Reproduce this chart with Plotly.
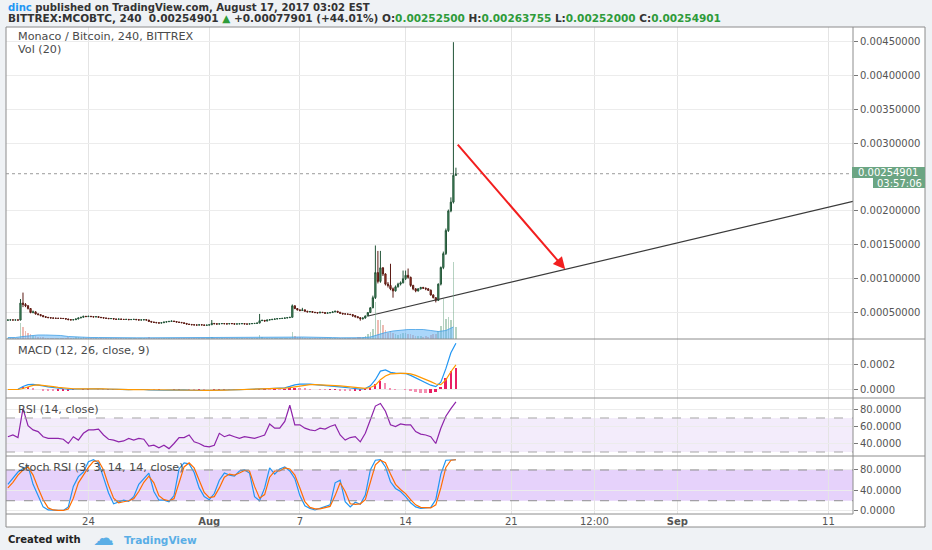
import pandas as pd
import plotly.graph_objects as go

# ---- price data: 4h candles from 2017-07-18 16:00, values in mBTC ----
candle_start = "2017-07-18 16:00"
first_open = 0.388
closes = [
    0.390, 0.392,
    0.390, 0.391, 0.390, 0.640, 0.620, 0.600,
    0.560, 0.500, 0.510, 0.480, 0.470, 0.455,
    0.440, 0.430, 0.425, 0.420, 0.418, 0.415,
    0.415, 0.414, 0.412, 0.405, 0.395, 0.392,
    0.395, 0.405, 0.420, 0.430, 0.445, 0.440,
    0.445, 0.440, 0.435, 0.440, 0.430, 0.425,
    0.420, 0.415, 0.410, 0.412, 0.405, 0.400,
    0.405, 0.400, 0.398, 0.400, 0.395, 0.398,
    0.400, 0.395, 0.390, 0.392, 0.395, 0.390,
    0.370, 0.360, 0.355, 0.350, 0.345, 0.350,
    0.360, 0.365, 0.370, 0.375, 0.368, 0.360,
    0.355, 0.350, 0.340, 0.330, 0.325, 0.320,
    0.318, 0.315, 0.320, 0.318, 0.312, 0.315,
    0.320, 0.340, 0.335, 0.330, 0.335, 0.338,
    0.335, 0.332, 0.338, 0.336, 0.330, 0.333,
    0.335, 0.337, 0.332, 0.330, 0.335, 0.338,
    0.340, 0.345, 0.380, 0.385, 0.375, 0.390,
    0.395, 0.400, 0.405, 0.410, 0.412, 0.415,
    0.420, 0.425, 0.430, 0.600, 0.560, 0.540,
    0.530, 0.540, 0.520, 0.510, 0.515, 0.505,
    0.500, 0.495, 0.505, 0.500, 0.490, 0.495,
    0.500, 0.510, 0.520, 0.505, 0.490, 0.480,
    0.480, 0.475, 0.470, 0.455, 0.440, 0.425,
    0.410, 0.420, 0.450, 0.500, 0.570, 0.720,
    1.090, 0.960, 1.160, 1.070, 0.920, 0.900,
    0.850, 0.820, 0.880, 0.920, 0.940, 1.000,
    1.050, 1.020, 0.900, 0.850, 0.820, 0.850,
    0.870, 0.860, 0.850, 0.830, 0.760, 0.720,
    0.680, 0.920, 1.165, 1.370, 1.710, 2.000,
    2.130, 2.525, 2.549,
]
highs = [
    0.395, 0.396,
    0.394, 0.395, 0.395, 0.700, 0.795, 0.640,
    0.610, 0.565, 0.530, 0.520, 0.490, 0.475,
    0.460, 0.445, 0.435, 0.428, 0.425, 0.422,
    0.420, 0.420, 0.418, 0.415, 0.408, 0.398,
    0.400, 0.410, 0.425, 0.435, 0.450, 0.450,
    0.452, 0.450, 0.445, 0.445, 0.442, 0.432,
    0.428, 0.422, 0.418, 0.416, 0.414, 0.408,
    0.408, 0.407, 0.402, 0.403, 0.402, 0.400,
    0.403, 0.402, 0.397, 0.395, 0.398, 0.397,
    0.392, 0.372, 0.362, 0.357, 0.352, 0.353,
    0.362, 0.368, 0.374, 0.380, 0.378, 0.370,
    0.362, 0.357, 0.352, 0.342, 0.332, 0.327,
    0.322, 0.320, 0.323, 0.322, 0.320, 0.318,
    0.323, 0.390, 0.345, 0.338, 0.338, 0.342,
    0.340, 0.337, 0.340, 0.340, 0.337, 0.336,
    0.338, 0.340, 0.339, 0.334, 0.337, 0.341,
    0.343, 0.350, 0.480, 0.395, 0.388, 0.393,
    0.398, 0.403, 0.408, 0.413, 0.416, 0.418,
    0.423, 0.428, 0.434, 0.620, 0.605, 0.565,
    0.545, 0.570, 0.545, 0.525, 0.520, 0.518,
    0.508, 0.502, 0.510, 0.508, 0.502, 0.500,
    0.503, 0.515, 0.525, 0.522, 0.508, 0.492,
    0.485, 0.480, 0.475, 0.472, 0.458, 0.442,
    0.428, 0.425, 0.455, 0.505, 0.580, 0.750,
    1.490, 1.410, 1.410, 1.170, 1.080, 0.950,
    1.220, 0.870, 0.900, 0.940, 0.960, 1.120,
    1.120, 1.150, 1.030, 0.910, 0.860, 0.860,
    0.880, 0.880, 0.870, 0.860, 0.840, 0.770,
    0.725, 0.930, 1.180, 1.400, 1.740, 2.020,
    2.200, 4.490, 2.638,
]
lows = [
    0.386, 0.388,
    0.386, 0.387, 0.386, 0.385, 0.580, 0.580,
    0.545, 0.490, 0.490, 0.470, 0.460, 0.445,
    0.432, 0.425, 0.418, 0.415, 0.412, 0.410,
    0.410, 0.408, 0.405, 0.400, 0.390, 0.386,
    0.388, 0.392, 0.402, 0.418, 0.428, 0.435,
    0.437, 0.435, 0.430, 0.432, 0.426, 0.420,
    0.415, 0.410, 0.405, 0.406, 0.400, 0.396,
    0.397, 0.396, 0.394, 0.395, 0.390, 0.392,
    0.395, 0.390, 0.385, 0.386, 0.389, 0.386,
    0.366, 0.355, 0.350, 0.345, 0.340, 0.342,
    0.347, 0.356, 0.362, 0.368, 0.364, 0.356,
    0.350, 0.346, 0.336, 0.326, 0.320, 0.315,
    0.312, 0.310, 0.312, 0.314, 0.308, 0.309,
    0.312, 0.318, 0.330, 0.326, 0.327, 0.332,
    0.330, 0.328, 0.330, 0.332, 0.326, 0.327,
    0.330, 0.332, 0.328, 0.326, 0.328, 0.333,
    0.336, 0.338, 0.342, 0.376, 0.370, 0.372,
    0.388, 0.393, 0.398, 0.404, 0.406, 0.410,
    0.414, 0.418, 0.422, 0.428, 0.550, 0.530,
    0.520, 0.525, 0.515, 0.505, 0.505, 0.500,
    0.492, 0.488, 0.492, 0.495, 0.485, 0.488,
    0.492, 0.498, 0.505, 0.500, 0.485, 0.474,
    0.472, 0.470, 0.465, 0.435, 0.425, 0.418,
    0.380, 0.395, 0.410, 0.445, 0.495, 0.565,
    0.700, 0.930, 0.940, 1.040, 0.900, 0.870,
    0.830, 0.720, 0.810, 0.870, 0.900, 0.930,
    0.980, 1.000, 0.880, 0.830, 0.800, 0.810,
    0.840, 0.850, 0.830, 0.820, 0.750, 0.710,
    0.650, 0.670, 0.900, 1.140, 1.350, 1.690,
    1.980, 2.110, 2.520,
]
volumes = [
    1, 1,
    1, 1, 1, 16, 12, 8,
    6, 5, 3, 3, 2, 2,
    2, 1, 1, 1, 1, 1,
    1, 1, 1, 1, 2, 1,
    1, 2, 2, 1, 2, 1,
    1, 1, 1, 1, 1, 1,
    1, 1, 1, 1, 1, 1,
    1, 1, 1, 1, 1, 1,
    1, 1, 1, 1, 1, 1,
    2, 1, 1, 1, 1, 1,
    1, 1, 1, 1, 1, 1,
    1, 1, 1, 1, 1, 1,
    1, 1, 1, 1, 1, 1,
    1, 2, 1, 1, 1, 1,
    1, 1, 1, 1, 1, 1,
    1, 1, 1, 1, 1, 1,
    1, 1, 4, 2, 1, 1,
    1, 1, 1, 1, 1, 1,
    1, 1, 1, 7, 3, 2,
    2, 2, 1, 1, 1, 1,
    1, 1, 1, 1, 1, 1,
    1, 1, 1, 1, 1, 1,
    1, 1, 1, 1, 1, 2,
    2, 2, 3, 5, 7, 10,
    37, 19, 19, 14, 9, 6,
    8, 6, 5, 4, 5, 6,
    6, 5, 5, 4, 3, 3,
    3, 2, 3, 2, 4, 5,
    5, 8, 13, 40, 20, 22,
    19, 77, 12,
]
# Vol (20) moving average, every 12h from the first candle
vol_ma = [
    1.5,
    1.5, 2.5, 3.5, 4.0, 4.0, 4.0, 3.5, 2.5, 2.0, 1.5,
    1.5, 1.5, 1.3, 1.3, 1.2, 1.2, 1.2, 1.2, 1.2, 1.2,
    1.2, 1.2, 1.2, 1.2, 1.2, 1.2, 1.3, 1.3, 1.3, 1.3,
    1.2, 1.2, 1.4, 1.6, 1.6, 1.5, 1.5, 1.9, 2.0, 2.0,
    1.8, 1.6, 1.4, 1.2, 1.1, 1.1, 1.3, 2.0, 4.5, 6.5,
    8.0, 9.0, 9.5, 9.5, 9.5, 8.5, 7.5, 8.5, 12.0,
]

# ---- indicators, every 8h from the first candle ----
macd = [
    0.0, 0.0, 0.000002, 0.000025, 0.000040, 0.000042, 0.000038, 0.000030, 0.000022, 0.000015,
    0.000010, 0.000006, 0.000002, 0.000003, 0.000005, 0.000007, 0.000008, 0.000007, 0.000006, 0.000004,
    0.000002, 0.0, -0.000001, -0.000002, -0.000001, 0.0, 0.000001, 0.0, -0.000004, -0.000006,
    -0.000007, -0.000006, -0.000005, -0.000003, -0.000002, -0.000003, -0.000005, -0.000007, -0.000008, -0.000009,
    -0.000008, -0.000006, -0.000004, -0.000003, -0.000002, -0.000002, -0.000001, 0.0, 0.0, 0.000001,
    0.000003, 0.000006, 0.000008, 0.000010, 0.000012, 0.000014, 0.000025, 0.000038, 0.000044, 0.000045,
    0.000043, 0.000040, 0.000037, 0.000034, 0.000032, 0.000029, 0.000024, 0.000018, 0.000012, 0.000007,
    0.000003, 0.000008, 0.000030, 0.000080, 0.000150, 0.000160, 0.000140, 0.000133, 0.000132, 0.000130,
    0.000115, 0.000095, 0.000070, 0.000050, 0.000035, 0.000023, 0.000060, 0.000170, 0.000300, 0.000377,
]
macd_signal = [
    0.0, 0.0, 0.0, 0.000008, 0.000022, 0.000034, 0.000038, 0.000035, 0.000030, 0.000024,
    0.000018, 0.000012, 0.000008, 0.000006, 0.000005, 0.000006, 0.000007, 0.000007, 0.000007, 0.000006,
    0.000004, 0.000002, 0.000001, 0.0, -0.000001, 0.0, 0.0, 0.0, -0.000002, -0.000004,
    -0.000005, -0.000006, -0.000005, -0.000004, -0.000003, -0.000003, -0.000004, -0.000005, -0.000006, -0.000007,
    -0.000008, -0.000007, -0.000006, -0.000005, -0.000004, -0.000003, -0.000002, -0.000001, -0.000001, 0.0,
    0.000001, 0.000003, 0.000005, 0.000007, 0.000009, 0.000011, 0.000015, 0.000022, 0.000030, 0.000036,
    0.000039, 0.000040, 0.000039, 0.000037, 0.000035, 0.000032, 0.000029, 0.000025, 0.000020, 0.000015,
    0.000010, 0.000009, 0.000016, 0.000035, 0.000080, 0.000110, 0.000127, 0.000131, 0.000132, 0.000131,
    0.000127, 0.000115, 0.000100, 0.000082, 0.000064, 0.000045, 0.000040, 0.000078, 0.000145, 0.000200,
]
rsi = [
    48, 50, 47, 81, 61, 56, 54, 48, 46, 46,
    46, 45, 40, 48, 44, 52, 56, 56, 57, 50,
    45, 44, 42, 43, 46, 44, 46, 45, 37, 38,
    35, 38, 34, 40, 47, 47, 50, 42, 40, 37,
    36, 38, 52, 48, 50, 48, 46, 48, 47, 46,
    48, 50, 63, 58, 58, 66, 85, 62, 62, 58,
    56, 55, 58, 57, 60, 62, 50, 44, 47, 48,
    42, 52, 68, 84, 87, 78, 62, 60, 63, 62,
    62, 54, 51, 50, 48, 40, 58, 72, 81, 89,
]
stoch_k = [
    52, 63, 76, 83, 88, 52, 31, 8, 2, 1,
    1, 1, 8, 48, 67, 76, 96, 100, 94, 65,
    35, 14, 18, 21, 19, 28, 52, 62, 74, 38,
    21, 21, 18, 30, 82, 94, 92, 75, 45, 28,
    22, 34, 60, 74, 70, 68, 78, 80, 74, 28,
    20, 45, 84, 72, 82, 86, 78, 63, 30, 10,
    5, 2, 5, 8, 12, 55, 60, 18, 8, 17,
    13, 31, 80, 99, 100, 86, 57, 44, 38, 28,
    16, 8, 5, 6, 7, 22, 72, 99, 100, 100,
]
stoch_d = [
    45, 56, 70, 80, 86, 70, 45, 22, 6, 2,
    1, 1, 4, 25, 55, 70, 85, 97, 98, 80,
    50, 25, 16, 18, 20, 24, 38, 56, 68, 55,
    30, 22, 20, 24, 55, 86, 94, 84, 60, 36,
    26, 28, 45, 66, 72, 70, 74, 79, 78, 48,
    25, 32, 66, 78, 78, 84, 82, 70, 45, 18,
    7, 4, 4, 6, 9, 30, 55, 38, 14, 13,
    14, 22, 55, 90, 99, 94, 72, 52, 42, 34,
    22, 12, 7, 6, 6, 12, 45, 85, 99, 100,
]

# ---- drawings on the chart ----
trend_t = ["2017-08-11 12:30", "2017-09-12 15:00"]
trend_p = [0.00045, 0.00214]
arrow_t = ["2017-08-17 08:50", "2017-08-24 13:40"]
arrow_p = [0.00300, 0.00114]
last_price = 0.00254901

# x axis labels
tick_vals = ["2017-07-24", "2017-08-01", "2017-08-07", "2017-08-14",
             "2017-08-21", "2017-08-26 12:00", "2017-09-01", "2017-09-11"]
tick_text = ["24", "<b>Aug</b>", "7", "14", "21", "12:00", "<b>Sep</b>", "11"]

# ---------------------------------------------------------------
W, H = 932, 550
L, R, T, B = 6, 79, 27, 36
PW, PH = W - L - R, H - T - B


def px(x):
    return (x - L) / PW


def py(y):
    return (H - B - y) / PH


times = pd.date_range(candle_start, periods=len(closes), freq="4h")
ind_times = pd.date_range(candle_start, periods=len(rsi), freq="8h")
ma_times = times[::3][:len(vol_ma)]

c_btc = [v / 1000 for v in closes]
h_btc = [v / 1000 for v in highs]
l_btc = [v / 1000 for v in lows]
o_btc = [first_open / 1000] + c_btc[:-1]

fig = go.Figure()

# volume
vol_colors = ["rgba(107,165,131,0.5)" if c >= o else "rgba(215,84,66,0.4)"
              for o, c in zip(o_btc, c_btc)]
fig.add_trace(go.Bar(x=times, y=volumes, marker=dict(color=vol_colors, line=dict(width=0)),
                     width=4 * 3600 * 1000 * 0.65, xaxis="x", yaxis="y2"))
fig.add_trace(go.Scatter(x=ma_times, y=vol_ma, mode="lines", fill="tozeroy",
                         line=dict(color="rgba(66,160,230,0.8)", width=1),
                         fillcolor="rgba(100,181,246,0.55)", xaxis="x", yaxis="y2"))

# candles
fig.add_trace(go.Candlestick(
    x=times, open=o_btc, high=h_btc, low=l_btc, close=c_btc,
    increasing=dict(line=dict(color="#225437", width=1), fillcolor="#4f9a6c"),
    decreasing=dict(line=dict(color="#5b1a13", width=1), fillcolor="#c0402f"),
    whiskerwidth=0, xaxis="x", yaxis="y"))

# trend line
fig.add_trace(go.Scatter(x=trend_t, y=trend_p, mode="lines",
                         line=dict(color="#3a3a3a", width=1.2), xaxis="x", yaxis="y"))

# MACD
hist = [m - s for m, s in zip(macd, macd_signal)]
hist_colors = []
for i, v in enumerate(hist):
    prev = hist[i - 1] if i > 0 else 0
    if v >= 0:
        hist_colors.append("#e91e63" if v >= prev else "#f48fb1")
    else:
        hist_colors.append("#f48fb1" if v < prev else "#e91e63")
fig.add_trace(go.Bar(x=ind_times, y=hist, marker=dict(color=hist_colors, line=dict(width=0)),
                     width=8 * 3600 * 1000 * 0.35, xaxis="x", yaxis="y3"))
fig.add_trace(go.Scatter(x=ind_times, y=macd, mode="lines",
                         line=dict(color="#2196f3", width=1.2), xaxis="x", yaxis="y3"))
fig.add_trace(go.Scatter(x=ind_times, y=macd_signal, mode="lines",
                         line=dict(color="#ff9800", width=1.2), xaxis="x", yaxis="y3"))

# RSI
fig.add_trace(go.Scatter(x=ind_times, y=rsi, mode="lines",
                         line=dict(color="#8e24aa", width=1.2), xaxis="x", yaxis="y4"))

# Stoch RSI
fig.add_trace(go.Scatter(x=ind_times, y=stoch_k, mode="lines",
                         line=dict(color="#2196f3", width=1.2), xaxis="x", yaxis="y5"))
fig.add_trace(go.Scatter(x=ind_times, y=stoch_d, mode="lines",
                         line=dict(color="#ff6d00", width=1.2), xaxis="x", yaxis="y5"))

axis_font = dict(family="DejaVu Sans", size=10, color="#555555")
yax = dict(side="right", anchor="x", ticks="outside", ticklen=4, tickcolor="#777777",
           tickfont=axis_font, showgrid=True, gridcolor="#ececec", zeroline=False,
           showline=False, fixedrange=True)

fig.update_layout(
    width=W, height=H,
    margin=dict(l=L, r=R, t=T, b=B),
    paper_bgcolor="#eff2f5",
    plot_bgcolor="white",
    showlegend=False,
    hovermode=False,
    bargap=0,
    font=dict(family="DejaVu Sans", color="#333333"),
    xaxis=dict(type="date", range=["2017-07-18 13:00", "2017-09-12 15:00"],
               anchor="y5", tickvals=tick_vals, ticktext=tick_text, tickfont=axis_font,
               showgrid=True, gridcolor="#e4e4e4", zeroline=False, showline=False,
               ticks="", rangeslider=dict(visible=False), fixedrange=True),
    yaxis=dict(yax, domain=[py(339), 1], range=[0.00011, 0.004714],
               tickvals=[0.0005, 0.001, 0.0015, 0.002, 0.003, 0.0035, 0.004, 0.0045],
               tickformat=".8f"),
    yaxis2=dict(overlaying="y", range=[0, max(volumes) * 4.05], visible=False),
    yaxis3=dict(yax, domain=[py(398), py(339)], range=[-0.0000694, 0.000412],
                tickvals=[0, 0.0002], tickformat=".4f"),
    yaxis4=dict(yax, domain=[py(456), py(398)], range=[25.3, 93.5],
                tickvals=[40, 60, 80], tickformat=".4f"),
    yaxis5=dict(yax, domain=[0, py(456)], range=[-5.9, 107.3],
                tickvals=[0, 40, 80], tickformat=".4f"),
)

frame_col = "#8c8c8c"
shapes = [
    # white chart card with its frame
    dict(type="rect", xref="paper", yref="paper", x0=0, x1=px(925), y0=py(527), y1=1,
         fillcolor="white", line=dict(width=0), layer="below"),
    dict(type="rect", xref="paper", yref="paper", x0=0, x1=px(925), y0=py(527), y1=1,
         line=dict(color=frame_col, width=1)),
    # RSI band
    dict(type="rect", xref="paper", yref="y4", x0=0, x1=1, y0=30, y1=70,
         fillcolor="rgba(155,100,225,0.12)", line=dict(width=0), layer="below"),
    dict(type="line", xref="paper", yref="y4", x0=0, x1=1, y0=70, y1=70,
         line=dict(color="#a5a5a5", width=1, dash="dash")),
    dict(type="line", xref="paper", yref="y4", x0=0, x1=1, y0=30, y1=30,
         line=dict(color="#a5a5a5", width=1, dash="dash")),
    # Stoch band
    dict(type="rect", xref="paper", yref="y5", x0=0, x1=1, y0=20, y1=80,
         fillcolor="rgba(160,80,240,0.26)", line=dict(width=0), layer="below"),
    dict(type="line", xref="paper", yref="y5", x0=0, x1=1, y0=80, y1=80,
         line=dict(color="#8f8f8f", width=1, dash="dash")),
    dict(type="line", xref="paper", yref="y5", x0=0, x1=1, y0=20, y1=20,
         line=dict(color="#8f8f8f", width=1, dash="dash")),
    # last price dotted line
    dict(type="line", xref="paper", yref="y", x0=0, x1=1, y0=last_price, y1=last_price,
         line=dict(color="#9a9a9a", width=1, dash="dot")),
    # pane separators and axis lines
    dict(type="line", xref="paper", yref="paper", x0=0, x1=px(925), y0=py(339), y1=py(339),
         line=dict(color=frame_col, width=1)),
    dict(type="line", xref="paper", yref="paper", x0=0, x1=px(925), y0=py(398), y1=py(398),
         line=dict(color=frame_col, width=1)),
    dict(type="line", xref="paper", yref="paper", x0=0, x1=px(925), y0=py(456), y1=py(456),
         line=dict(color=frame_col, width=1)),
    dict(type="line", xref="paper", yref="paper", x0=1, x1=1, y0=0, y1=1,
         line=dict(color=frame_col, width=1)),
    dict(type="line", xref="paper", yref="paper", x0=0, x1=1, y0=0, y1=0,
         line=dict(color=frame_col, width=1)),
    # last price label boxes
    dict(type="rect", xref="paper", yref="paper", x0=px(852), x1=px(925), y0=py(178), y1=py(167),
         fillcolor="#6ba583", line=dict(width=0)),
    dict(type="rect", xref="paper", yref="paper", x0=px(873), x1=px(925), y0=py(188), y1=py(178),
         fillcolor="#6ba583", line=dict(width=0)),
]
fig.update_layout(shapes=shapes)

green = "#2e9b3a"
header1 = ("<b><span style='color:#2196f3'>dinc</span> published on TradingView.com, "
           "August 17, 2017 03:02 EST</b>")
header2 = ("<b>BITTREX:MCOBTC, 240  0.00254901 <span style='color:%s'>▲</span> "
           "+0.00077901 (+44.01%%) O:<span style='color:%s'>0.00252500</span> "
           "H:<span style='color:%s'>0.00263755</span> L:<span style='color:%s'>0.00252000</span> "
           "C:<span style='color:%s'>0.00254901</span></b>") % (green, green, green, green, green)

label_font = dict(family="DejaVu Sans", size=11.2, color="#4a4a4a")
annotations = [
    dict(text=header1, x=0, y=py(7.5), xanchor="left", yanchor="middle",
         font=dict(family="DejaVu Sans", size=10.1, color="#333333")),
    dict(text=header2, x=0, y=py(18), xanchor="left", yanchor="middle",
         font=dict(family="DejaVu Sans", size=10.5, color="#333333")),
    dict(text="Monaco / Bitcoin, 240, BITTREX", x=px(16), y=py(36.5), xanchor="left",
         yanchor="middle", font=label_font),
    dict(text="Vol (20)", x=px(16), y=py(49), xanchor="left", yanchor="middle", font=label_font),
    dict(text="MACD (12, 26, close, 9)", x=px(16), y=py(350), xanchor="left",
         yanchor="middle", font=label_font),
    dict(text="RSI (14, close)", x=px(16), y=py(409), xanchor="left",
         yanchor="middle", font=label_font),
    dict(text="Stoch RSI (3, 3, 14, 14, close)", x=px(16), y=py(467), xanchor="left",
         yanchor="middle", font=label_font),
    dict(text="0.00254901", x=px(888.5), y=py(172.5), xanchor="center", yanchor="middle",
         font=dict(family="DejaVu Sans", size=10, color="white")),
    dict(text="03:57:06", x=px(899), y=py(183), xanchor="center", yanchor="middle",
         font=dict(family="DejaVu Sans", size=10, color="white")),
    dict(text="<b>Created with</b>", x=0, y=py(539.5), xanchor="left", yanchor="middle",
         font=dict(family="DejaVu Sans", size=10, color="#222222")),
    dict(text="☁", x=px(103), y=py(538), xanchor="center", yanchor="middle",
         font=dict(family="DejaVu Sans", size=21, color="#5aaee6")),
    dict(text="<b>TradingView</b>", x=px(122), y=py(539.5), xanchor="left", yanchor="middle",
         font=dict(family="DejaVu Sans", size=10.5, color="#5aaee6")),
]
for a in annotations:
    a.update(xref="paper", yref="paper", showarrow=False)

# the red arrow drawn on the chart
annotations.append(dict(
    x=arrow_t[1], y=arrow_p[1], ax=arrow_t[0], ay=arrow_p[0],
    xref="x", yref="y", axref="x", ayref="y", text="", showarrow=True,
    arrowhead=2, arrowsize=1.2, arrowwidth=2, arrowcolor="#f21f1f"))
fig.update_layout(annotations=annotations)

# page has a default body margin; drop it so the figure sits at the window corner
fig.write_html("out.html", config={"displayModeBar": False},
               post_script="document.body.style.margin='0';")
